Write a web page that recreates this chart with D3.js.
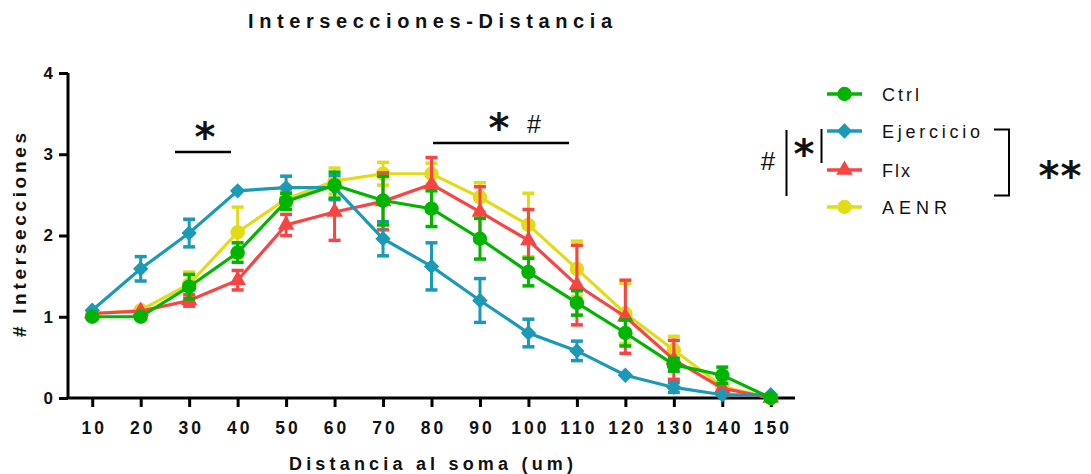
<!DOCTYPE html>
<html>
<head>
<meta charset="utf-8">
<title>Intersecciones-Distancia</title>
<script src="https://d3js.org/d3.v7.min.js"></script>
<style>
  body { margin: 0; background: #ffffff; }
  text { font-family: "Liberation Sans", Arial, sans-serif; fill: #111; }
</style>
</head>
<body>
<script>
// distances (um)
var distancias = [10, 20, 30, 40, 50, 60, 70, 80, 90, 100, 110, 120, 130, 140, 150];
var yTicks = [0, 1, 2, 3, 4];

var ctrl      = [1.00, 1.00, 1.37, 1.79, 2.42, 2.62, 2.43, 2.33, 1.96, 1.55, 1.17, 0.80, 0.41, 0.28, 0.00];
var ctrlErr   = [0.00, 0.00, 0.15, 0.12, 0.10, 0.16, 0.30, 0.22, 0.25, 0.17, 0.15, 0.16, 0.08, 0.10, 0.00];
var ejer      = [1.08, 1.59, 2.03, 2.55, 2.59, 2.59, 1.96, 1.62, 1.20, 0.80, 0.58, 0.28, 0.13, 0.04, 0.04];
var ejerErr   = [0.00, 0.15, 0.17, 0.00, 0.14, 0.15, 0.21, 0.29, 0.27, 0.17, 0.12, 0.00, 0.06, 0.00, 0.00];
var flx       = [1.04, 1.07, 1.20, 1.45, 2.13, 2.29, 2.42, 2.63, 2.29, 1.94, 1.39, 1.00, 0.47, 0.12, 0.00];
var flxErr    = [0.00, 0.00, 0.07, 0.12, 0.13, 0.35, 0.35, 0.33, 0.31, 0.38, 0.49, 0.45, 0.24, 0.00, 0.00];
var aenr      = [1.04, 1.08, 1.40, 2.04, 2.45, 2.67, 2.76, 2.76, 2.47, 2.13, 1.59, 1.04, 0.59, 0.14, 0.00];
var aenrErr   = [0.00, 0.00, 0.15, 0.31, 0.10, 0.16, 0.14, 0.13, 0.18, 0.39, 0.34, 0.37, 0.17, 0.00, 0.00];

var nombres = ["Ctrl", "Ejercicio", "Flx", "AENR"];

var w = 1091, h = 474;

var x = d3.scaleLinear().domain([5, 155]).range([68, 795]);
var y = d3.scaleLinear().domain([0, 4]).range([398, 73]);

var svg = d3.select("body").append("svg")
  .attr("width", w)
  .attr("height", h);

var series = [
  { name: "Ctrl", values: ctrl, err: ctrlErr, color: "#00b400", shape: "circle" },
  { name: "Ejercicio", values: ejer, err: ejerErr, color: "#1a9ab6", shape: "diamond" },
  { name: "Flx", values: flx, err: flxErr, color: "#f74545", shape: "triangle" },
  { name: "AENR", values: aenr, err: aenrErr, color: "#e2dc18", shape: "circle" }
];

function symbolPath(shape) {
  if (shape == "diamond") return d3.symbol().type(d3.symbolDiamond2).size(150)();
  if (shape == "triangle") return d3.symbol().type(d3.symbolTriangle).size(120)();
  return d3.symbol().type(d3.symbolCircle).size(165)();
}

// title
svg.append("text")
  .attr("x", 248).attr("y", 28)
  .attr("textLength", 364).attr("lengthAdjust", "spacing")
  .style("font-size", "20px").style("font-weight", "bold")
  .text("Intersecciones-Distancia");

// axes
var xAxis = svg.append("g").attr("transform", "translate(0,398)")
  .call(d3.axisBottom(x).tickValues(distancias).tickSize(9).tickPadding(0));
xAxis.select(".domain").attr("d", "M68,0H795").attr("stroke", "#000").attr("stroke-width", 3);
xAxis.selectAll(".tick line").attr("stroke", "#000").attr("stroke-width", 3);
xAxis.selectAll(".tick text")
  .attr("y", 36).attr("dy", null).attr("dx", "1.5")
  .style("font-size", "17.5px").style("font-weight", "bold")
  .style("letter-spacing", "3px").attr("fill", "#111");

var yAxis = svg.append("g").attr("transform", "translate(68,0)")
  .call(d3.axisLeft(y).tickValues(yTicks).tickFormat(d3.format("d")).tickSize(9).tickPadding(6));
yAxis.select(".domain").attr("d", "M0,73V399").attr("stroke", "#000").attr("stroke-width", 3);
yAxis.selectAll(".tick line").attr("stroke", "#000").attr("stroke-width", 3);
yAxis.selectAll(".tick text")
  .attr("x", -15)
  .style("font-size", "17px").style("font-weight", "bold").attr("fill", "#111");

// axis labels
svg.append("text")
  .attr("x", 289).attr("y", 470)
  .attr("textLength", 284).attr("lengthAdjust", "spacing")
  .style("font-size", "18px").style("font-weight", "bold")
  .text("Distancia al soma (um)");

svg.append("text")
  .attr("transform", "translate(26,337) rotate(-90)")
  .attr("textLength", 204).attr("lengthAdjust", "spacing")
  .style("font-size", "19px").style("font-weight", "bold")
  .text("# Intersecciones");

// data, drawn bottom layer first
var line = d3.line()
  .x(function(d, i) { return x(distancias[i]); })
  .y(function(d) { return y(d); });

series.slice().reverse().forEach(function(s) {
  var g = svg.append("g");
  g.append("path")
    .attr("d", line(s.values))
    .attr("fill", "none")
    .attr("stroke", s.color)
    .attr("stroke-width", 3.2);

  var eb = g.selectAll(".eb")
    .data(s.values.map(function(v, i) { return { x: distancias[i], v: v, e: s.err[i] }; })
      .filter(function(d) { return d.e > 0; }))
    .enter().append("g");
  eb.append("line")
    .attr("x1", function(d) { return x(d.x); })
    .attr("x2", function(d) { return x(d.x); })
    .attr("y1", function(d) { return y(d.v + d.e); })
    .attr("y2", function(d) { return y(d.v - d.e); })
    .attr("stroke", s.color).attr("stroke-width", 3);
  [1, -1].forEach(function(sg) {
    eb.append("line")
      .attr("x1", function(d) { return x(d.x) - 6; })
      .attr("x2", function(d) { return x(d.x) + 6; })
      .attr("y1", function(d) { return y(d.v + sg * d.e); })
      .attr("y2", function(d) { return y(d.v + sg * d.e); })
      .attr("stroke", s.color).attr("stroke-width", 3.5);
  });

  g.selectAll(".pt")
    .data(s.values)
    .enter().append("path")
    .attr("d", symbolPath(s.shape))
    .attr("transform", function(d, i) { return "translate(" + x(distancias[i]) + "," + y(d) + ")"; })
    .attr("fill", s.color);
});

// significance marks in the plot
function star(px, py, size) {
  svg.append("text").attr("x", px).attr("y", py).attr("text-anchor", "middle")
    .style("font-family", "'DejaVu Sans', sans-serif")
    .style("font-size", size + "px").style("font-weight", "bold").text("*");
}

svg.append("line").attr("x1", 175).attr("x2", 231).attr("y1", 152).attr("y2", 152)
  .attr("stroke", "#000").attr("stroke-width", 2.5);
star(205, 151, 40);

svg.append("line").attr("x1", 433).attr("x2", 569).attr("y1", 143).attr("y2", 143)
  .attr("stroke", "#000").attr("stroke-width", 2.5);
star(499, 142, 40);
svg.append("text").attr("x", 534).attr("y", 133).attr("text-anchor", "middle")
  .style("font-size", "25px").text("#");

// legend
var legY = [94, 131, 170, 207];
var legend = svg.append("g");
series.forEach(function(s, i) {
  legend.append("line")
    .attr("x1", 827).attr("x2", 862).attr("y1", legY[i]).attr("y2", legY[i])
    .attr("stroke", s.color).attr("stroke-width", 3.5);
  legend.append("path")
    .attr("d", symbolPath(s.shape))
    .attr("transform", "translate(844.5," + legY[i] + ")")
    .attr("fill", s.color);
});
var legW = [37, 98, 28, 65];
nombres.forEach(function(n, i) {
  legend.append("text")
    .attr("x", 882).attr("y", legY[i] + 6.5)
    .attr("textLength", legW[i]).attr("lengthAdjust", "spacing")
    .style("font-size", "18px")
    .text(n);
});

// legend brackets
svg.append("text").attr("x", 768).attr("y", 170).attr("text-anchor", "middle")
  .style("font-size", "26px").text("#");
svg.append("line").attr("x1", 786.5).attr("x2", 786.5).attr("y1", 130).attr("y2", 196)
  .attr("stroke", "#000").attr("stroke-width", 2);
star(804, 168, 40);
svg.append("line").attr("x1", 821.5).attr("x2", 821.5).attr("y1", 129).attr("y2", 163)
  .attr("stroke", "#000").attr("stroke-width", 2);
svg.append("path").attr("d", "M994,129.5H1009V195.5H994")
  .attr("fill", "none").attr("stroke", "#000").attr("stroke-width", 2);
star(1049, 190, 40);
star(1071, 190, 40);
</script>
</body>
</html>
